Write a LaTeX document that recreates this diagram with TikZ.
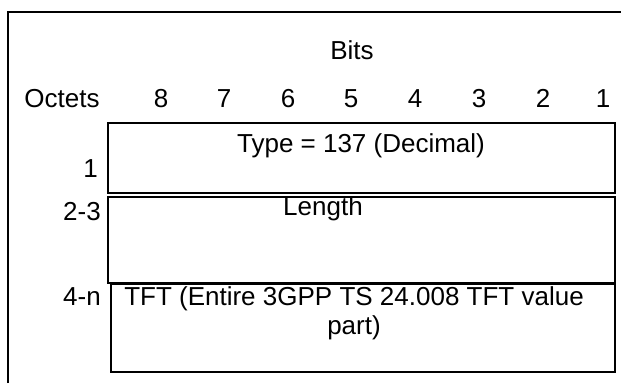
\documentclass[tikz,border=0pt]{standalone}
\usepackage{fontspec}
\setmainfont{Liberation Sans}
\usetikzlibrary{positioning}

\begin{document}
\begin{tikzpicture}[
    x=1pt, y=-1pt,
    lbl/.style={font=\fontsize{26}{29}\selectfont, inner sep=0pt, anchor=base},
    oct/.style={lbl, anchor=base east},
    field/.style={draw, line width=1.2pt},
    frame/.style={draw, line width=1.8pt},
]
\useasboundingbox (0,0) rectangle (621,383);

% outer frame, cut off at right and bottom
\draw[frame] (8,383) -- (8,12) -- (621,12);

% header
\node[lbl] (bits) at (352,59) {Bits};
\node[lbl] (octets) at (62,107) {Octets};
\foreach \b/\x in {8/161, 7/224, 6/288, 5/351, 4/415, 3/479, 2/543, 1/603}
    \node[lbl] (bit\b) at (\x,107) {\b};

% fields
\draw[field] (108,123) rectangle (615,193);
\draw[field] (108,197) rectangle (615,283);
\draw[field] (111,284) rectangle (615,372);

\node[lbl] (type) at (361,152) {Type = 137 (Decimal)};
\node[lbl] (length) at (323,215) {Length};
\node[lbl, align=center] (tft) at (354,334) {TFT (Entire 3GPP TS 24.008 TFT value\\part)};

% octet numbers
\node[oct] (o1) at (98,177) {1};
\node[oct] (o23) at (101,220) {2-3};
\node[oct] (o4n) at (101,305) {4-n};
\end{tikzpicture}
\end{document}
